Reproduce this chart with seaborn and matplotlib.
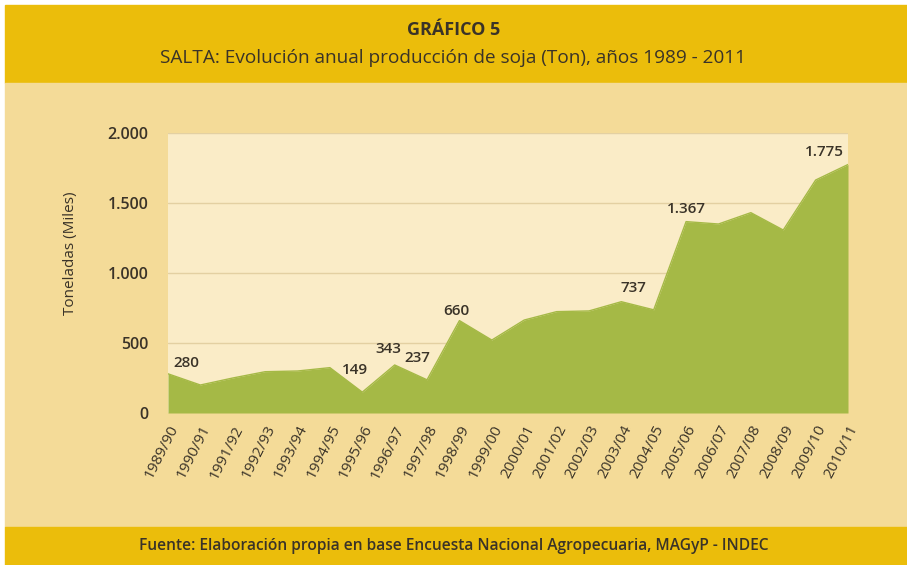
import numpy as np
import pandas as pd
import matplotlib
matplotlib.use('Agg')
import matplotlib.pyplot as plt
import matplotlib.patches as mpatches
from matplotlib.ticker import FuncFormatter
import seaborn as sns

# Datos: producción de soja en Salta (miles de toneladas)
campanas = ['1989/90', '1990/91', '1991/92', '1992/93', '1993/94', '1994/95',
            '1995/96', '1996/97', '1997/98', '1998/99', '1999/00', '2000/01',
            '2001/02', '2002/03', '2003/04', '2004/05', '2005/06', '2006/07',
            '2007/08', '2008/09', '2009/10', '2010/11']
produccion = [280, 200, 250, 295, 300, 324, 149, 343, 237, 660, 521, 664,
              724, 729, 795, 737, 1367, 1350, 1431, 1307, 1664, 1775]
puntos_etiquetados = ['1989/90', '1995/96', '1996/97', '1997/98', '1998/99',
                      '2004/05', '2005/06', '2010/11']
yticks = [0, 500, 1000, 1500, 2000]

# desplazamiento de las etiquetas (pixeles) respecto al punto
desplazamientos = {'1989/90': (18, 11), '1995/96': (-7, 22), '1996/97': (-6, 16),
                   '1997/98': (-10, 22), '1998/99': (-3, 10), '2004/05': (-20, 22),
                   '2005/06': (0, 13), '2010/11': (-24, 12)}

df = pd.DataFrame({'campana': campanas, 'produccion': produccion})
df['x'] = np.arange(len(df))

oro = '#EBBD0B'
crema = '#F4DB98'
fondo = '#FAECC7'
verde = '#A5B946'
texto = '#3A3328'

sns.set_style('white')
plt.rcParams['font.family'] = ['Open Sans', 'DejaVu Sans']

fig = plt.figure(figsize=(9.07, 5.65), dpi=100, facecolor='white')

# Bandas de fondo (encabezado, cuerpo, pie)
x0 = 5 / 907
for y, h, col in [(1 - 83 / 565, 78 / 565, oro), (38 / 565, 444 / 565, crema), (0, 38 / 565, oro)]:
    fig.patches.append(mpatches.Rectangle((x0, y), 1 - x0, h, transform=fig.transFigure,
                                          color=col, zorder=-10))

fig.text(0.5, 1 - 30 / 565, 'GRÁFICO 5', ha='center', va='center', fontsize=13, fontweight='bold', color=texto)
fig.text(0.5, 1 - 58 / 565, 'SALTA: Evolución anual producción de soja (Ton), años 1989 - 2011',
         ha='center', va='center', fontsize=13.7, color=texto)
fig.text(0.5, 19 / 565, 'Fuente: Elaboración propia en base Encuesta Nacional Agropecuaria, MAGyP - INDEC',
         ha='center', va='center', fontsize=11.2, fontweight='semibold', color=texto)

ax = fig.add_axes([168 / 907, 1 - 413 / 565, 680 / 907, 280 / 565])
ax.set_facecolor(fondo)

sns.lineplot(data=df, x='x', y='produccion', color=verde, linewidth=1, ax=ax)
ax.fill_between(df['x'], df['produccion'], color=verde, linewidth=0, zorder=2)

for c in puntos_etiquetados:
    fila = df[df['campana'] == c].iloc[0]
    dx, dy = desplazamientos[c]
    ax.annotate(f"{fila['produccion']:,}".replace(',', '.'), (fila['x'], fila['produccion']),
                xytext=(dx, dy), textcoords='offset pixels', ha='center', va='center',
                fontsize=11, fontweight='semibold', color=texto, zorder=5)

ax.set_xlim(0, len(df) - 1)
ax.set_ylim(0, 2000)
ax.set_yticks(yticks)
ax.yaxis.set_major_formatter(FuncFormatter(lambda v, p: f"{int(v):,}".replace(',', '.')))
ax.set_xticks(df['x'])
ax.set_xticklabels(campanas, rotation=63, ha='right', rotation_mode='anchor', fontsize=11, color=texto)
ax.tick_params(axis='y', length=0, pad=14, labelsize=11.5, labelcolor=texto)
ax.tick_params(axis='x', length=0, pad=7)
for lbl in ax.get_yticklabels():
    lbl.set_fontweight('semibold')
ax.grid(axis='y', color='#E3D0A2', linewidth=1, zorder=1)
ax.set_axisbelow(True)
for s in ax.spines.values():
    s.set_visible(False)
ax.set_xlabel('')
ax.set_ylabel('Toneladas (Miles)', fontsize=11, color=texto, fontweight='medium')
ax.yaxis.set_label_coords(-0.132, 0.57)

fig.savefig('out.png', dpi=100, facecolor=fig.get_facecolor())
